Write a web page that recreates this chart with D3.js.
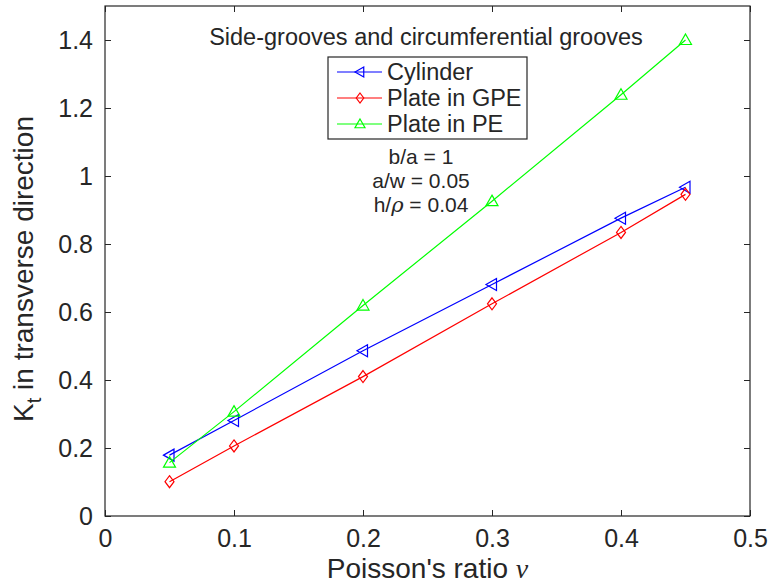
<!DOCTYPE html>
<html>
<head>
<meta charset="utf-8">
<script src="https://cdn.jsdelivr.net/npm/d3@7"></script>
<style>
  body { margin: 0; background: #fff; }
  svg text { font-family: "Liberation Sans", Arial, Helvetica, sans-serif; fill: #262626; }
</style>
</head>
<body>
<svg width="772" height="587"></svg>
<script>
const nu = [0.05, 0.1, 0.2, 0.3, 0.4, 0.45];
const cylinder = [0.179, 0.281, 0.486, 0.681, 0.876, 0.967];
const plateGPE = [0.101, 0.206, 0.410, 0.624, 0.834, 0.946];
const platePE = [0.157, 0.307, 0.619, 0.926, 1.239, 1.400];
const xTicks = [0, 0.1, 0.2, 0.3, 0.4, 0.5];
const yTicks = [0, 0.2, 0.4, 0.6, 0.8, 1, 1.2, 1.4];
const seriesNames = ['Cylinder', 'Plate in GPE', 'Plate in PE'];
const notes = ['b/a = 1', 'a/w = 0.05', 'h/ρ = 0.04'];

const series = [
  { name: seriesNames[0], values: cylinder, color: '#0000ff', marker: 'left' },
  { name: seriesNames[1], values: plateGPE, color: '#ff0000', marker: 'diamond' },
  { name: seriesNames[2], values: platePE, color: '#00ff00', marker: 'up' }
];

const margin = { top: 6, right: 22, bottom: 71, left: 105 };
const width = 772 - margin.left - margin.right;
const height = 587 - margin.top - margin.bottom;
const axisColor = '#262626';

const svg = d3.select('svg')
  .append('g')
  .attr('transform', `translate(${margin.left}, ${margin.top})`);

const x = d3.scaleLinear().domain([0, 0.5]).range([0, width]);
const y = d3.scaleLinear().domain([0, 1.5]).range([height, 0]);

const fmt = d => d === 0 ? '0' : (d === 1 ? '1' : d3.format('.1f')(d));

// box axes with inward ticks
const styleAxis = g => {
  g.select('.domain').remove();
  g.selectAll('line').attr('stroke', axisColor).attr('stroke-width', 1);
  g.selectAll('text').style('font-size', '25px').attr('fill', axisColor);
};

svg.append('g')
  .attr('transform', `translate(0, ${height})`)
  .call(d3.axisBottom(x).tickValues(xTicks).tickFormat(fmt).tickSizeInner(-6).tickSizeOuter(0).tickPadding(13))
  .call(styleAxis)
  .selectAll('text').attr('dy', '0.71em');

svg.append('g')
  .call(d3.axisTop(x).tickValues(xTicks).tickFormat('').tickSizeInner(-6).tickSizeOuter(0))
  .call(styleAxis);

svg.append('g')
  .call(d3.axisLeft(y).tickValues(yTicks).tickFormat(fmt).tickSizeInner(-6).tickSizeOuter(0).tickPadding(12))
  .call(styleAxis);

svg.append('g')
  .attr('transform', `translate(${width}, 0)`)
  .call(d3.axisRight(y).tickValues(yTicks).tickFormat('').tickSizeInner(-6).tickSizeOuter(0))
  .call(styleAxis);

svg.append('rect')
  .attr('width', width)
  .attr('height', height)
  .attr('fill', 'none')
  .attr('stroke', axisColor)
  .attr('stroke-width', 1.2);

const markerPath = (type, r) => {
  if (type === 'left') return `M${-r},0L${r * 0.75},${-r}L${r * 0.75},${r}Z`;
  if (type === 'up') return `M0,${-r}L${r},${r * 0.75}L${-r},${r * 0.75}Z`;
  return `M0,${-r}L${r * 0.75},0L0,${r}L${-r * 0.75},0Z`;
};

const line = d3.line()
  .x(d => x(d[0]))
  .y(d => y(d[1]));

series.forEach(s => {
  const pts = nu.map((v, i) => [v, s.values[i]]);
  svg.append('path')
    .datum(pts)
    .attr('fill', 'none')
    .attr('stroke', s.color)
    .attr('stroke-width', 1.2)
    .attr('d', line);
  svg.selectAll(null)
    .data(pts)
    .enter()
    .append('path')
    .attr('transform', d => `translate(${x(d[0])}, ${y(d[1])})`)
    .attr('d', markerPath(s.marker, 6))
    .attr('fill', 'none')
    .attr('stroke', s.color)
    .attr('stroke-width', 1.2);
});

// title inside the axes
svg.append('text')
  .attr('x', 321)
  .attr('y', 39)
  .attr('text-anchor', 'middle')
  .style('font-size', '23.5px')
  .text('Side-grooves and circumferential grooves');

// legend
const legend = svg.append('g').attr('transform', 'translate(223, 51)');
legend.append('rect')
  .attr('width', 199)
  .attr('height', 82)
  .attr('fill', '#fff')
  .attr('stroke', axisColor)
  .attr('stroke-width', 1.2);

series.forEach((s, i) => {
  const cy = 15 + i * 26;
  legend.append('line')
    .attr('x1', 9).attr('x2', 54)
    .attr('y1', cy).attr('y2', cy)
    .attr('stroke', s.color)
    .attr('stroke-width', 1.2);
  legend.append('path')
    .attr('transform', `translate(32, ${cy})`)
    .attr('d', markerPath(s.marker, 5))
    .attr('fill', 'none')
    .attr('stroke', s.color)
    .attr('stroke-width', 1.2);
  legend.append('text')
    .attr('x', 59)
    .attr('y', cy + 8)
    .style('font-size', '23.5px')
    .text(s.name);
});

// annotation
notes.forEach((t, i) => {
  const txt = svg.append('text')
    .attr('x', 316)
    .attr('y', 158 + i * 24)
    .attr('text-anchor', 'middle')
    .style('font-size', '21px');
  if (t.includes('ρ')) {
    const parts = t.split('ρ');
    txt.append('tspan').text(parts[0]);
    txt.append('tspan').style('font-family', '"DejaVu Serif", "Liberation Serif", serif').style('font-style', 'italic').text('ρ');
    txt.append('tspan').text(parts[1]);
  } else {
    txt.text(t);
  }
});

// axis labels
const xl = svg.append('text')
  .attr('x', width / 2)
  .attr('y', height + 62)
  .attr('text-anchor', 'middle')
  .style('font-size', '28px');
xl.append('tspan').text("Poisson's ratio ");
xl.append('tspan').style('font-family', '"Liberation Serif", serif').style('font-style', 'italic').text('ν');

const yl = svg.append('text')
  .attr('transform', `translate(-72, ${height / 2 + 8}) rotate(-90)`)
  .attr('text-anchor', 'middle')
  .style('font-size', '28px');
yl.append('tspan').text('K');
yl.append('tspan').attr('dy', 8).style('font-size', '20px').text('t');
yl.append('tspan').attr('dy', -8).text(' in transverse direction');
</script>
</body>
</html>
